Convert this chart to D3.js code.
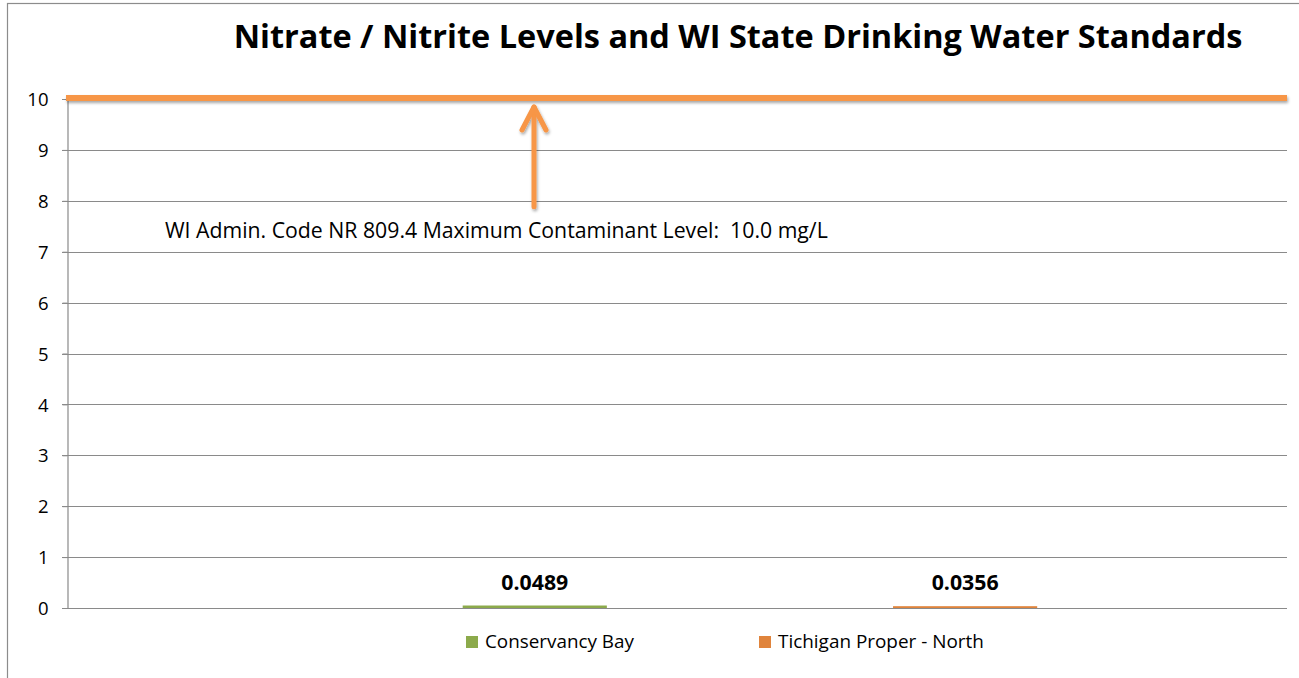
<!DOCTYPE html>
<html>
<head>
<meta charset="utf-8">
<script src="https://cdn.jsdelivr.net/npm/d3@7"></script>
<style>
  body { margin: 0; background: #fff; }
  text { font-family: "Open Sans", Lato, sans-serif; fill: #000; white-space: pre; }
</style>
</head>
<body>
<svg id="chart" width="1299" height="678"></svg>
<script>
// data
var series = ["Conservancy Bay", "Tichigan Proper - North"];
var values = [0.0489, 0.0356];
var labels = ["0.0489", "0.0356"];
var colors = ["#8CAA4B", "#E0843C"];
var yTicks = [0, 1, 2, 3, 4, 5, 6, 7, 8, 9, 10];
var limit = 10;
var limitText = "WI Admin. Code NR 809.4 Maximum Contaminant Level:  10.0 mg/L";
var title = "Nitrate / Nitrite Levels and WI State Drinking Water Standards";

var svg = d3.select("svg#chart"),
    margin = {left: 67, right: 12, top: 99, bottom: 70},
    width = 1299, height = 678;

// shrink/grow a text's font so it spans the given width
function fit(sel, w) {
  sel.each(function() {
    var size = parseFloat(d3.select(this).style("font-size"));
    var len = this.getComputedTextLength();
    d3.select(this).style("font-size", (size * w / len).toFixed(2) + "px");
  });
}

var defs = svg.append("defs");
var shadow = defs.append("filter").attr("id", "shadow")
    .attr("filterUnits", "userSpaceOnUse")
    .attr("x", 0).attr("y", 0).attr("width", width).attr("height", height);
shadow.append("feDropShadow")
    .attr("dx", 1).attr("dy", 2).attr("stdDeviation", 1.5)
    .attr("flood-color", "#000").attr("flood-opacity", 0.35);

// outer frame
svg.append("rect")
    .attr("x", 7.5).attr("y", 3.5)
    .attr("width", 1300).attr("height", 700)
    .attr("fill", "none").attr("stroke", "#8c8c8c").attr("stroke-width", 1.2);

var x = d3.scaleBand()
    .domain(series)
    .range([margin.left, width - margin.right])
    .paddingInner(0.665)
    .paddingOuter(0.75)
    .align(0.613);

var y = d3.scaleLinear()
    .domain([0, 10])
    .range([height - margin.bottom, margin.top]);

// gridlines
svg.append("g")
    .selectAll("line")
    .data(yTicks)
    .enter().append("line")
      .attr("x1", margin.left - 5)
      .attr("x2", width - margin.right)
      .attr("y1", function(d) { return Math.round(y(d)) + 0.5; })
      .attr("y2", function(d) { return Math.round(y(d)) + 0.5; })
      .attr("stroke", "#8a8a8a")
      .attr("stroke-width", 1.2);

// y axis
var yAxis = svg.append("g")
    .attr("transform", "translate(" + (margin.left + 0.5) + ",0)")
    .call(d3.axisLeft(y).tickValues(yTicks).tickSize(5).tickPadding(14));
yAxis.select(".domain").attr("stroke", "#8a8a8a").attr("stroke-width", 1.2);
yAxis.selectAll(".tick line").attr("stroke", "#8a8a8a");
yAxis.selectAll("text")
    .attr("font-family", null)
    .attr("font-size", null)
    .attr("fill", "#000")
    .attr("dy", "0.36em")
    .style("font-size", "18.5px");

// bars
var bars = svg.append("g")
    .selectAll("g")
    .data(series)
    .enter().append("g");

bars.append("rect")
    .attr("x", function(d) { return x(d); })
    .attr("width", x.bandwidth())
    .attr("y", function(d, i) { return y(values[i]); })
    .attr("height", function(d, i) { return y(0) - y(values[i]); })
    .attr("fill", function(d, i) { return colors[i]; });

bars.append("text")
    .attr("x", function(d) { return x(d) + x.bandwidth() / 2; })
    .attr("y", function(d, i) { return y(values[i]) - 16; })
    .attr("text-anchor", "middle")
    .style("font-size", "18px")
    .style("font-weight", "bold")
    .text(function(d, i) { return labels[i]; })
    .call(fit, 67);

// limit line
svg.append("line")
    .attr("x1", margin.left - 1)
    .attr("x2", width - margin.right)
    .attr("y1", y(limit) - 1)
    .attr("y2", y(limit) - 1)
    .attr("stroke", "#F79646")
    .attr("stroke-width", 6)
    .attr("filter", "url(#shadow)");

// arrow pointing to the limit
var arrowX = 534;
var arrow = svg.append("g")
    .attr("fill", "none")
    .attr("stroke", "#F79646")
    .attr("stroke-width", 5)
    .attr("stroke-linecap", "round")
    .attr("stroke-linejoin", "round")
    .attr("filter", "url(#shadow)");
arrow.append("line")
    .attr("x1", arrowX).attr("x2", arrowX)
    .attr("y1", y(limit) + 8).attr("y2", y(8) + 6);
arrow.append("path")
    .attr("d", "M" + (arrowX - 12) + "," + (y(limit) + 31) +
               "L" + arrowX + "," + (y(limit) + 8) +
               "L" + (arrowX + 12) + "," + (y(limit) + 31));

// annotation
svg.append("text")
    .attr("x", 165)
    .attr("y", 238)
    .style("font-size", "18px")
    .text(limitText)
    .call(fit, 663);

// title
svg.append("text")
    .attr("x", 738)
    .attr("y", 48)
    .attr("text-anchor", "middle")
    .style("font-size", "32px")
    .style("font-weight", "bold")
    .text(title)
    .call(fit, 1009);

// legend
var legendX = [466, 759];
var legendW = [149, 206];
var legend = svg.append("g")
    .selectAll("g")
    .data(series)
    .enter().append("g")
      .attr("transform", function(d, i) { return "translate(" + legendX[i] + ",636)"; });

legend.append("rect")
    .attr("width", 12).attr("height", 12)
    .attr("fill", function(d, i) { return colors[i]; });

legend.append("text")
    .attr("x", 19)
    .attr("y", 12)
    .style("font-size", "18px")
    .text(function(d) { return d; })
    .each(function(d, i) { d3.select(this).call(fit, legendW[i]); });
</script>
</body>
</html>
